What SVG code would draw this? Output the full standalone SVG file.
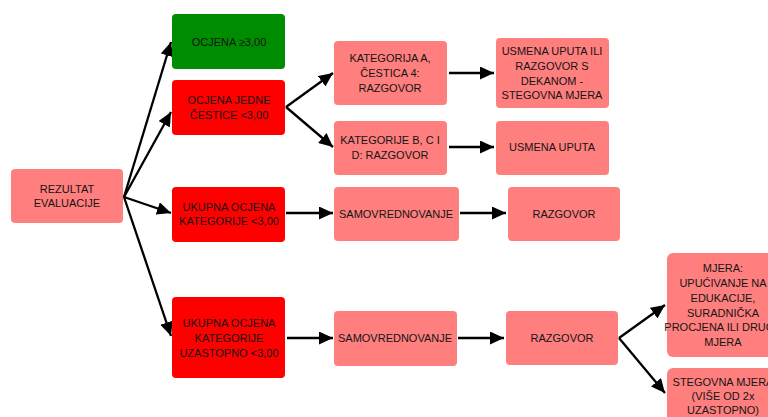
<svg xmlns="http://www.w3.org/2000/svg" width="768" height="417" viewBox="0 0 768 417">
<defs>
<style>
.n{fill:#FF7F7F}
.r{fill:#FF0000}
.g{fill:#008C00}
text{font-family:"Liberation Sans",Arial,sans-serif;font-size:11px;fill:#141414;text-anchor:middle;dominant-baseline:central}
.c line{stroke:#000;stroke-width:2.3;marker-end:url(#ah)}
</style>
<marker id="ah" markerUnits="userSpaceOnUse" markerWidth="14" markerHeight="13" refX="14" refY="6.5" orient="auto">
<path d="M0,0 L14,6.5 L0,13 z" fill="#000"/>
</marker>
</defs>
<rect width="768" height="417" fill="#fff"/>
<g id="connectors" class="c">
<line x1="124" y1="197" x2="171" y2="42"/>
<line x1="124" y1="197" x2="171" y2="112"/>
<line x1="124" y1="197" x2="171" y2="213"/>
<line x1="124" y1="197" x2="171" y2="336"/>
<line x1="286" y1="107" x2="333" y2="73"/>
<line x1="286" y1="107" x2="333" y2="147"/>
<line x1="449" y1="73" x2="494" y2="73"/>
<line x1="449" y1="147" x2="494" y2="147"/>
<line x1="286" y1="213" x2="333" y2="213"/>
<line x1="460" y1="213" x2="506" y2="213"/>
<line x1="287" y1="338" x2="333" y2="338"/>
<line x1="458" y1="338" x2="504" y2="338"/>
<line x1="619" y1="338" x2="665" y2="305"/>
<line x1="619" y1="338" x2="665" y2="393"/>
</g>
<g id="rezultat"><rect class="n" x="11" y="169" width="112" height="54" rx="4"/><text x="67" y="189">REZULTAT</text><text x="67" y="203">EVALUACIJE</text></g>
<g id="ocjena-ok"><rect class="g" x="172" y="14" width="113" height="55" rx="4"/><text x="229" y="42">OCJENA ≥3,00</text></g>
<g id="ocjena-cestice"><rect class="r" x="172" y="80" width="113" height="55" rx="4"/><text x="229" y="100">OCJENA JEDNE</text><text x="229" y="115">ČESTICE &lt;3,00</text></g>
<g id="ukupna-kat"><rect class="r" x="172" y="187" width="113" height="55" rx="4"/><text x="229" y="207">UKUPNA OCJENA</text><text x="229" y="221">KATEGORIJE &lt;3,00</text></g>
<g id="ukupna-uzastopno"><rect class="r" x="172" y="297" width="113" height="81" rx="4"/><text x="229" y="323">UKUPNA OCJENA</text><text x="229" y="338">KATEGORIJE</text><text x="229" y="353">UZASTOPNO &lt;3,00</text></g>
<g id="kat-a"><rect class="n" x="334" y="41" width="113" height="64" rx="4"/><text x="390" y="58">KATEGORIJA A,</text><text x="390" y="73">ČESTICA 4:</text><text x="390" y="88">RAZGOVOR</text></g>
<g id="kat-bcd"><rect class="n" x="334" y="121" width="113" height="54" rx="4"/><text x="390" y="140">KATEGORIJE B, C I</text><text x="390" y="155">D: RAZGOVOR</text></g>
<g id="usmena-dekan"><rect class="n" x="496" y="38" width="113" height="70" rx="4"/><text x="552" y="51">USMENA UPUTA ILI</text><text x="552" y="66">RAZGOVOR S</text><text x="552" y="81">DEKANOM -</text><text x="552" y="95">STEGOVNA MJERA</text></g>
<g id="usmena"><rect class="n" x="496" y="121" width="113" height="54" rx="4"/><text x="552" y="147">USMENA UPUTA</text></g>
<g id="samo1"><rect class="n" x="334" y="187" width="125" height="54" rx="4"/><text x="396" y="214">SAMOVREDNOVANJE</text></g>
<g id="razgovor1"><rect class="n" x="508" y="187" width="112" height="54" rx="4"/><text x="564" y="214">RAZGOVOR</text></g>
<g id="samo2"><rect class="n" x="334" y="311" width="123" height="55" rx="4"/><text x="395" y="338">SAMOVREDNOVANJE</text></g>
<g id="razgovor2"><rect class="n" x="506" y="311" width="112" height="54" rx="4"/><text x="562" y="338">RAZGOVOR</text></g>
<g id="mjera"><rect class="n" x="667" y="253" width="113" height="104" rx="6"/><text x="723" y="268">MJERA:</text><text x="723" y="283">UPUĆIVANJE NA</text><text x="723" y="298">EDUKACIJE,</text><text x="723" y="313">SURADNIČKA</text><text x="723" y="327">PROCJENA ILI DRUGA</text><text x="723" y="342">MJERA</text></g>
<g id="stegovna"><rect class="n" x="667" y="368" width="113" height="60" rx="6"/><text x="723" y="382">STEGOVNA MJERA</text><text x="723" y="396">(VIŠE OD 2x</text><text x="723" y="410">UZASTOPNO)</text></g>
</svg>
